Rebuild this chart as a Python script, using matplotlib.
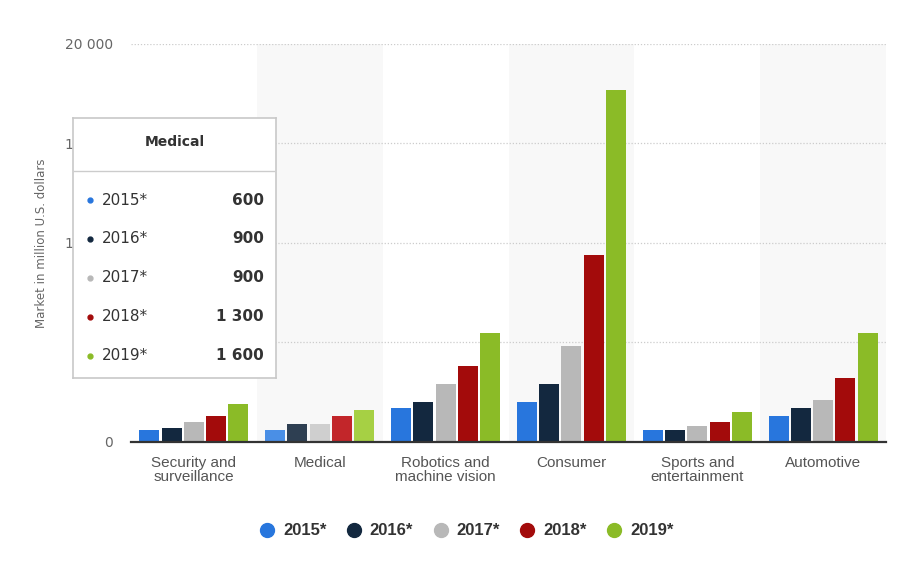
import numpy as np
import matplotlib
matplotlib.use("Agg")
import matplotlib.pyplot as plt
from matplotlib.lines import Line2D

plt.rcParams["font.family"] = ["Liberation Sans", "DejaVu Sans"]

# ---- data (million U.S. dollars) ----
categories = ["Security and\nsurveillance", "Medical", "Robotics and\nmachine vision",
              "Consumer", "Sports and\nentertainment", "Automotive"]
years = ["2015*", "2016*", "2017*", "2018*", "2019*"]
v2015 = [600, 600, 1700, 2000, 600, 1300]
v2016 = [700, 900, 2000, 2900, 600, 1700]
v2017 = [1000, 900, 2900, 4800, 800, 2100]
v2018 = [1300, 1300, 3800, 9400, 1000, 3200]
v2019 = [1900, 1600, 5500, 17700, 1500, 5500]
series = [v2015, v2016, v2017, v2018, v2019]
yticks = [0, 5000, 10000, 15000, 20000]
tip_cat = "Medical"
tip_vals = ["600", "900", "900", "1 300", "1 600"]

colors = ["#2876dd", "#13283f", "#b8b8b8", "#a30b0b", "#8bbb27"]
hl_colors = ["#4a8fe6", "#2e3f52", "#cfcfcf", "#c2262a", "#a6d044"]

fig = plt.figure(figsize=(9.14, 5.69), dpi=100)
ax = fig.add_axes([0.1433, 0.2232, 0.8261, 0.6995])

x = np.arange(len(categories))
pitch = 0.177
width = 0.159
hl = categories.index("Medical")

# alternating background bands
for i in range(1, len(categories), 2):
    ax.axvspan(i - 0.5, i + 0.5, color="#f8f8f8", zorder=0, lw=0)

for k, vals in enumerate(series):
    off = (k - 2) * pitch
    cols = [hl_colors[k] if i == hl else colors[k] for i in range(len(categories))]
    ax.bar(x + off, vals, width=width, color=cols, zorder=3, lw=0)

ax.set_xlim(-0.5, len(categories) - 0.5)
ax.set_ylim(0, 20000)
ax.set_yticks(yticks)
ax.set_yticklabels([f"{t:,}".replace(",", " ") for t in yticks], fontsize=10,
                   color="#666666", family="DejaVu Sans")
for t in yticks[1:]:
    ax.axhline(t, color="#cccccc", lw=0.9, ls=(0, (1, 1.5)), zorder=1)
ax.set_xticks(x)
ax.set_xticklabels(categories, fontsize=11, color="#555555", linespacing=1.05)
ax.tick_params(length=0, pad=10)
ax.tick_params(axis="y", pad=13)
for s in ["top", "right", "left"]:
    ax.spines[s].set_visible(False)
ax.spines["bottom"].set_color("#333333")
ax.spines["bottom"].set_linewidth(1.6)
ax.spines["bottom"].set_zorder(5)
ax.set_facecolor("white")
ax.set_ylabel("Market in million U.S. dollars", fontsize=8.5, color="#666666",
              family="DejaVu Sans", labelpad=12)

# legend
handles = [Line2D([], [], marker="o", ls="", markersize=10, color=c) for c in colors]
leg = fig.legend(handles, years, loc="center", bbox_to_anchor=(0.51, 0.067), ncol=5,
                 frameon=False, handlelength=1.0, handletextpad=0.45, columnspacing=1.15,
                 prop={"size": 12, "weight": "bold"})
for t in leg.get_texts():
    t.set_color("#333333")

# hover tooltip box
tip = fig.add_axes([0.0799, 0.3357, 0.2221, 0.4569])
tip.set_xlim(0, 203)
tip.set_ylim(260, 0)
tip.set_xticks([])
tip.set_yticks([])
tip.set_facecolor("white")
for s in tip.spines.values():
    s.set_color("#c8c8c8")
    s.set_linewidth(1.2)
tip.text(102, 24, tip_cat, ha="center", va="center", fontsize=10, fontweight="bold",
         color="#333333", family="DejaVu Sans")
tip.plot([1, 201], [53, 53], color="#cccccc", lw=1)
for k, (lab, val) in enumerate(zip(years, tip_vals)):
    yy = 82 + k * 39
    tip.plot(17, yy, "o", color=colors[k], markersize=3.5)
    tip.text(29, yy, lab, ha="left", va="center", fontsize=11, color="#333333",
             family="DejaVu Sans")
    tip.text(191, yy, val, ha="right", va="center", fontsize=11, fontweight="bold",
             color="#333333", family="DejaVu Sans")

fig.savefig("out.png", dpi=100)
